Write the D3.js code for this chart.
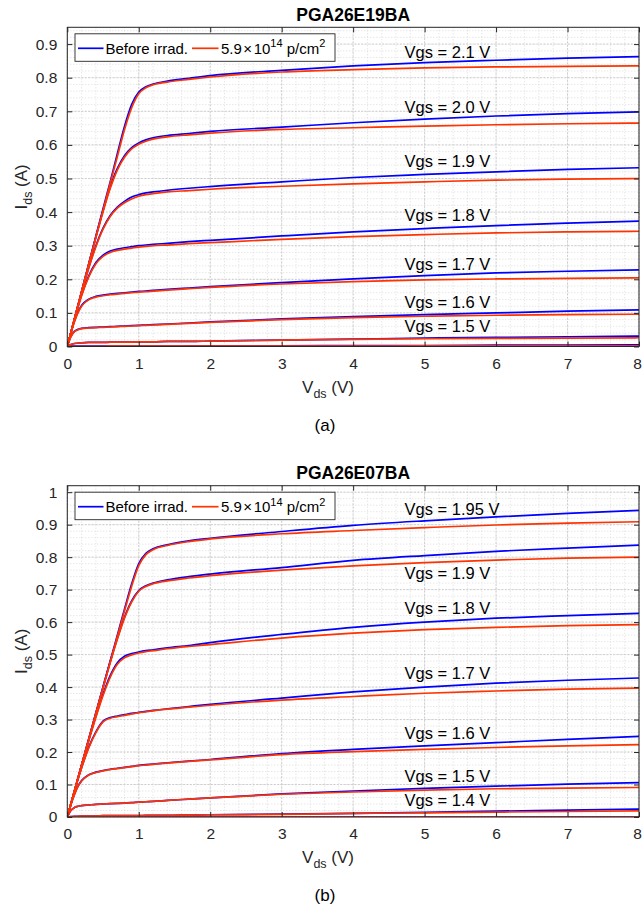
<!DOCTYPE html>
<html>
<head>
<meta charset="utf-8">
<script src="https://cdn.jsdelivr.net/npm/d3@7"></script>
<style>
  body { margin: 0; background: #fff; }
  svg { font-family: "Liberation Sans", Arial, Helvetica, sans-serif; }
</style>
</head>
<body>
<div id="app"></div>
<script>
// Vds sample points (V), shared by every curve
const vds = [0, 0.05, 0.1, 0.15, 0.2, 0.3, 0.4, 0.5, 0.6, 0.7, 0.8, 0.9, 1.0, 1.1, 1.2, 1.4, 1.7, 2, 3, 4, 5, 6, 7, 8];

// (a) PGA26E19BA, Ids (A)
const vgsA = ["2.1", "2.0", "1.9", "1.8", "1.7", "1.6", "1.5", "1.4", "1.3"];
const beforeA = [
  [0, 0.041, 0.082, 0.123, 0.164, 0.246, 0.328, 0.41, 0.49, 0.574, 0.655, 0.72, 0.757, 0.773, 0.781, 0.79, 0.798, 0.806, 0.822, 0.835, 0.845, 0.852, 0.858, 0.863],
  [0, 0.041, 0.082, 0.123, 0.164, 0.246, 0.327, 0.405, 0.475, 0.53, 0.568, 0.592, 0.606, 0.615, 0.621, 0.628, 0.634, 0.64, 0.653, 0.666, 0.677, 0.686, 0.693, 0.698],
  [0, 0.041, 0.081, 0.121, 0.16, 0.235, 0.3, 0.352, 0.39, 0.415, 0.432, 0.445, 0.452, 0.457, 0.46, 0.465, 0.471, 0.476, 0.49, 0.503, 0.512, 0.52, 0.527, 0.532],
  [0, 0.041, 0.08, 0.118, 0.153, 0.21, 0.25, 0.272, 0.284, 0.29, 0.294, 0.297, 0.3, 0.302, 0.304, 0.307, 0.312, 0.316, 0.329, 0.341, 0.351, 0.36, 0.367, 0.373],
  [0, 0.04, 0.075, 0.103, 0.122, 0.141, 0.149, 0.153, 0.156, 0.158, 0.16, 0.162, 0.164, 0.165, 0.167, 0.17, 0.174, 0.178, 0.19, 0.201, 0.211, 0.219, 0.224, 0.228],
  [0, 0.03, 0.045, 0.051, 0.054, 0.056, 0.057, 0.058, 0.059, 0.06, 0.061, 0.062, 0.063, 0.064, 0.065, 0.067, 0.07, 0.073, 0.082, 0.089, 0.095, 0.1, 0.105, 0.109],
  [0, 0.006, 0.009, 0.01, 0.011, 0.012, 0.012, 0.012, 0.013, 0.013, 0.013, 0.013, 0.014, 0.014, 0.014, 0.015, 0.015, 0.016, 0.019, 0.022, 0.025, 0.027, 0.029, 0.031],
  [0, 0.001, 0.001, 0.001, 0.001, 0.001, 0.001, 0.001, 0.001, 0.001, 0.001, 0.001, 0.001, 0.001, 0.001, 0.001, 0.002, 0.002, 0.002, 0.003, 0.003, 0.004, 0.004, 0.005],
  [0, 0, 0, 0, 0, 0, 0, 0, 0, 0, 0, 0, 0, 0, 0, 0, 0, 0, 0, 0, 0, 0, 0, 0]
];
const afterA = [
  [0, 0.041, 0.082, 0.123, 0.163, 0.244, 0.325, 0.405, 0.485, 0.565, 0.645, 0.71, 0.752, 0.77, 0.779, 0.787, 0.795, 0.802, 0.817, 0.824, 0.829, 0.832, 0.834, 0.835],
  [0, 0.041, 0.082, 0.122, 0.163, 0.244, 0.324, 0.4, 0.47, 0.525, 0.563, 0.588, 0.602, 0.611, 0.617, 0.624, 0.63, 0.635, 0.646, 0.651, 0.656, 0.66, 0.663, 0.665],
  [0, 0.041, 0.081, 0.12, 0.159, 0.233, 0.297, 0.349, 0.387, 0.412, 0.428, 0.439, 0.447, 0.452, 0.455, 0.46, 0.464, 0.468, 0.477, 0.484, 0.49, 0.495, 0.498, 0.5],
  [0, 0.041, 0.08, 0.117, 0.151, 0.207, 0.246, 0.268, 0.28, 0.286, 0.29, 0.293, 0.296, 0.298, 0.3, 0.302, 0.306, 0.309, 0.319, 0.327, 0.333, 0.338, 0.341, 0.343],
  [0, 0.04, 0.074, 0.101, 0.12, 0.139, 0.147, 0.151, 0.154, 0.156, 0.158, 0.16, 0.162, 0.163, 0.165, 0.168, 0.172, 0.176, 0.186, 0.193, 0.198, 0.201, 0.203, 0.204],
  [0, 0.029, 0.044, 0.05, 0.053, 0.055, 0.056, 0.057, 0.058, 0.059, 0.06, 0.061, 0.062, 0.063, 0.064, 0.066, 0.069, 0.072, 0.08, 0.086, 0.09, 0.093, 0.095, 0.096],
  [0, 0.006, 0.009, 0.01, 0.011, 0.012, 0.012, 0.012, 0.013, 0.013, 0.013, 0.013, 0.014, 0.014, 0.014, 0.015, 0.015, 0.016, 0.019, 0.021, 0.023, 0.024, 0.025, 0.026],
  [0, 0, 0, 0, 0, 0, 0, 0, 0.001, 0.001, 0.001, 0.001, 0.001, 0.001, 0.001, 0.001, 0.001, 0.001, 0.001, 0.001, 0.002, 0.002, 0.002, 0.002],
  [0, 0, 0, 0, 0, 0, 0, 0, 0, 0, 0, 0, 0, 0, 0, 0, 0, 0, 0, 0, 0, 0, 0, 0]
];
const labelsA = ["2.1", "2.0", "1.9", "1.8", "1.7", "1.6", "1.5"];
const labelIdsA = [0.86, 0.696, 0.535, 0.375, 0.228, 0.114, 0.044];

// (b) PGA26E07BA, Ids (A)
const vgsB = ["1.95", "1.9", "1.8", "1.7", "1.6", "1.5", "1.4", "1.3"];
const beforeB = [
  [0, 0.04, 0.08, 0.12, 0.16, 0.24, 0.32, 0.4, 0.48, 0.56, 0.64, 0.717, 0.78, 0.812, 0.826, 0.838, 0.85, 0.858, 0.879, 0.898, 0.912, 0.924, 0.935, 0.944],
  [0, 0.04, 0.08, 0.12, 0.16, 0.24, 0.32, 0.4, 0.478, 0.55, 0.615, 0.665, 0.697, 0.712, 0.72, 0.73, 0.74, 0.748, 0.768, 0.79, 0.805, 0.818, 0.828, 0.837],
  [0, 0.04, 0.08, 0.12, 0.159, 0.236, 0.31, 0.378, 0.435, 0.475, 0.495, 0.503, 0.508, 0.512, 0.515, 0.521, 0.528, 0.537, 0.562, 0.584, 0.6, 0.612, 0.62, 0.627],
  [0, 0.04, 0.079, 0.117, 0.152, 0.215, 0.262, 0.295, 0.306, 0.311, 0.315, 0.319, 0.322, 0.325, 0.328, 0.333, 0.34, 0.347, 0.366, 0.385, 0.4, 0.412, 0.421, 0.428],
  [0, 0.038, 0.07, 0.095, 0.112, 0.13, 0.138, 0.143, 0.147, 0.15, 0.153, 0.156, 0.159, 0.161, 0.163, 0.167, 0.172, 0.177, 0.195, 0.208, 0.219, 0.229, 0.239, 0.248],
  [0, 0.02, 0.029, 0.033, 0.035, 0.037, 0.039, 0.04, 0.041, 0.042, 0.043, 0.044, 0.046, 0.047, 0.048, 0.051, 0.055, 0.059, 0.071, 0.08, 0.088, 0.095, 0.101, 0.106],
  [0, 0.001, 0.002, 0.002, 0.003, 0.003, 0.003, 0.004, 0.004, 0.004, 0.004, 0.004, 0.004, 0.005, 0.005, 0.005, 0.006, 0.007, 0.009, 0.011, 0.014, 0.018, 0.021, 0.0245],
  [0, 0, 0, 0, 0, 0, 0, 0, 0, 0, 0, 0, 0, 0, 0, 0, 0, 0, 0, 0, 0, 0, 0, 0]
];
const afterB = [
  [0, 0.04, 0.08, 0.12, 0.159, 0.239, 0.318, 0.397, 0.476, 0.555, 0.634, 0.71, 0.774, 0.808, 0.823, 0.836, 0.848, 0.856, 0.872, 0.882, 0.891, 0.899, 0.905, 0.909],
  [0, 0.04, 0.08, 0.12, 0.159, 0.239, 0.318, 0.397, 0.475, 0.547, 0.612, 0.662, 0.695, 0.71, 0.718, 0.727, 0.736, 0.743, 0.76, 0.773, 0.783, 0.791, 0.797, 0.8],
  [0, 0.04, 0.08, 0.119, 0.158, 0.234, 0.307, 0.374, 0.43, 0.47, 0.49, 0.499, 0.505, 0.509, 0.512, 0.518, 0.525, 0.531, 0.551, 0.566, 0.577, 0.584, 0.589, 0.592],
  [0, 0.04, 0.078, 0.116, 0.151, 0.213, 0.26, 0.293, 0.304, 0.309, 0.313, 0.317, 0.321, 0.324, 0.327, 0.332, 0.338, 0.344, 0.36, 0.371, 0.381, 0.388, 0.394, 0.397],
  [0, 0.038, 0.069, 0.094, 0.111, 0.129, 0.137, 0.142, 0.146, 0.149, 0.152, 0.155, 0.158, 0.16, 0.162, 0.166, 0.171, 0.176, 0.192, 0.201, 0.208, 0.214, 0.219, 0.223],
  [0, 0.02, 0.029, 0.033, 0.035, 0.037, 0.039, 0.04, 0.041, 0.042, 0.043, 0.044, 0.046, 0.047, 0.048, 0.051, 0.055, 0.059, 0.07, 0.077, 0.083, 0.087, 0.089, 0.091],
  [0, 0.001, 0.002, 0.002, 0.003, 0.003, 0.003, 0.004, 0.004, 0.004, 0.004, 0.004, 0.004, 0.005, 0.005, 0.005, 0.006, 0.007, 0.008, 0.011, 0.013, 0.015, 0.017, 0.019],
  [0, 0, 0, 0, 0, 0, 0, 0, 0, 0, 0, 0, 0, 0, 0, 0, 0, 0, 0, 0, 0, 0, 0, 0]
];
const labelsB = ["1.95", "1.9", "1.8", "1.7", "1.6", "1.5", "1.4"];
const labelIdsB = [0.929, 0.732, 0.625, 0.425, 0.241, 0.108, 0.034];

const xTicks = [0, 1, 2, 3, 4, 5, 6, 7, 8];
const yTicksA = [0, 0.1, 0.2, 0.3, 0.4, 0.5, 0.6, 0.7, 0.8, 0.9];
const yTicksB = [0, 0.1, 0.2, 0.3, 0.4, 0.5, 0.6, 0.7, 0.8, 0.9, 1];

const blue = "#0000ff";
const red = "#ff3300";
const axisColor = "#262626";

const svg = d3.select("#app").append("svg")
  .attr("width", 642)
  .attr("height", 909);

function drawPanel(p) {
  const left = 67.3, right = 639;
  const x = d3.scaleLinear().domain([0, 8]).range([left, right]);
  const y = d3.scaleLinear().domain([0, p.yMax]).range([p.bottom, p.top]);
  const g = svg.append("g");

  g.append("clipPath").attr("id", p.id + "-clip")
    .append("rect")
    .attr("x", left).attr("y", p.top)
    .attr("width", right - left).attr("height", p.bottom - p.top);

  // minor grid
  const xMinor = d3.range(0, 8.0001, 0.2);
  const yMinor = d3.range(0, p.yMax, 0.02);
  g.append("g").selectAll("line").data(xMinor).join("line")
    .attr("x1", d => x(d)).attr("x2", d => x(d))
    .attr("y1", p.top).attr("y2", p.bottom)
    .attr("stroke", "#d4d4d4").attr("stroke-width", 0.8)
    .attr("stroke-dasharray", "1,2");
  g.append("g").selectAll("line").data(yMinor).join("line")
    .attr("x1", left).attr("x2", right)
    .attr("y1", d => y(d)).attr("y2", d => y(d))
    .attr("stroke", "#d4d4d4").attr("stroke-width", 0.8)
    .attr("stroke-dasharray", "1,2");
  // major grid
  g.append("g").selectAll("line").data(xTicks).join("line")
    .attr("x1", d => x(d)).attr("x2", d => x(d))
    .attr("y1", p.top).attr("y2", p.bottom)
    .attr("stroke", "#c4c4c4").attr("stroke-width", 0.8)
    .attr("stroke-dasharray", "2,1.5");
  g.append("g").selectAll("line").data(p.yTicks).join("line")
    .attr("x1", left).attr("x2", right)
    .attr("y1", d => y(d)).attr("y2", d => y(d))
    .attr("stroke", "#c4c4c4").attr("stroke-width", 0.8)
    .attr("stroke-dasharray", "2,1.5");

  const line = d3.line()
    .x((d, i) => x(vds[i]))
    .y(d => y(d))
    .curve(d3.curveMonotoneX);

  const curves = g.append("g").attr("clip-path", `url(#${p.id}-clip)`);
  p.before.forEach(s => {
    curves.append("path").attr("d", line(s))
      .attr("fill", "none").attr("stroke", blue).attr("stroke-width", 1.7);
  });
  p.after.forEach(s => {
    curves.append("path").attr("d", line(s))
      .attr("fill", "none").attr("stroke", red).attr("stroke-width", 1.7);
  });

  // box
  g.append("rect")
    .attr("x", left).attr("y", p.top)
    .attr("width", right - left).attr("height", p.bottom - p.top)
    .attr("fill", "none").attr("stroke", axisColor).attr("stroke-width", 1);

  // axes with inward ticks
  g.append("g").attr("transform", `translate(0,${p.bottom})`)
    .call(d3.axisBottom(x).tickValues(xTicks).tickSizeInner(-5).tickSizeOuter(0).tickPadding(11).tickFormat(d3.format("d")))
    .call(a => a.select(".domain").remove())
    .call(a => a.selectAll(".tick text").filter(d => d === 8).attr("dx", -2));
  g.append("g").attr("transform", `translate(0,${p.top})`)
    .call(d3.axisTop(x).tickValues(xTicks).tickSizeInner(-5).tickSizeOuter(0).tickFormat(""))
    .call(a => a.select(".domain").remove());
  g.append("g").attr("transform", `translate(${left},0)`)
    .call(d3.axisLeft(y).tickValues(p.yTicks).tickSizeInner(-5).tickSizeOuter(0).tickPadding(10).tickFormat(d => d === 0 || d === 1 ? d3.format("d")(d) : d3.format(".1f")(d)))
    .call(a => a.select(".domain").remove());
  g.append("g").attr("transform", `translate(${right},0)`)
    .call(d3.axisRight(y).tickValues(p.yTicks).tickSizeInner(-5).tickSizeOuter(0).tickFormat(""))
    .call(a => a.select(".domain").remove());
  g.selectAll(".tick line").attr("stroke", axisColor);
  g.selectAll(".tick text")
    .attr("fill", axisColor)
    .attr("font-size", 15.5)
    .attr("font-family", "Liberation Sans, Arial, sans-serif");

  // title
  g.append("text")
    .attr("x", (left + right) / 2).attr("y", p.top - 6.5)
    .attr("text-anchor", "middle")
    .attr("font-size", 17.5).attr("font-weight", "bold")
    .attr("fill", "#000")
    .text(p.title);

  // axis labels
  const xl = g.append("text")
    .attr("x", 328).attr("y", p.bottom + 46)
    .attr("text-anchor", "middle")
    .attr("font-size", 17).attr("fill", axisColor);
  xl.append("tspan").text("V");
  xl.append("tspan").attr("font-size", 12.5).attr("dy", 5).text("ds");
  xl.append("tspan").attr("dy", -5).text(" (V)");

  const yl = g.append("text")
    .attr("transform", `translate(27,${(p.top + p.bottom) / 2}) rotate(-90)`)
    .attr("text-anchor", "middle")
    .attr("font-size", 17).attr("fill", axisColor);
  yl.append("tspan").text("I");
  yl.append("tspan").attr("font-size", 12.5).attr("dy", 5).text("ds");
  yl.append("tspan").attr("dy", -5).text(" (A)");

  // caption
  g.append("text")
    .attr("x", 325).attr("y", p.bottom + 84)
    .attr("text-anchor", "middle")
    .attr("font-size", 17).attr("fill", "#000")
    .text(p.caption);

  // Vgs labels
  g.append("g").selectAll("text").data(p.labels).join("text")
    .attr("x", x(4.72))
    .attr("y", (d, i) => y(p.labelIds[i]))
    .attr("font-size", 16.5).attr("fill", "#000")
    .text(d => `Vgs = ${d} V`);

  // legend
  const ly = p.top + 6.5;
  const lg = g.append("g");
  lg.append("rect")
    .attr("x", 75).attr("y", ly)
    .attr("width", 260).attr("height", 27.5)
    .attr("fill", "#fff").attr("stroke", axisColor).attr("stroke-width", 0.9);
  const cy = ly + 14.5;
  lg.append("line").attr("x1", 78).attr("x2", 103.5).attr("y1", cy).attr("y2", cy)
    .attr("stroke", blue).attr("stroke-width", 1.7);
  lg.append("text").attr("x", 105.5).attr("y", cy + 5.3)
    .attr("font-size", 15).attr("fill", "#000").text("Before irrad.");
  lg.append("line").attr("x1", 192).attr("x2", 218.5).attr("y1", cy).attr("y2", cy)
    .attr("stroke", red).attr("stroke-width", 1.7);
  const lt = lg.append("text").attr("x", 221).attr("y", cy + 5.3)
    .attr("font-size", 15).attr("fill", "#000");
  lt.append("tspan").text("5.9");
  lt.append("tspan").attr("dx", 1.5).text("\u00d7");
  lt.append("tspan").attr("dx", 1.5).text("10");
  lt.append("tspan").attr("font-size", 11).attr("dy", -6.5).text("14");
  lt.append("tspan").attr("dy", 6.5).text(" p/cm");
  lt.append("tspan").attr("font-size", 11).attr("dy", -6.5).text("2");
}

drawPanel({
  id: "pa", top: 27.3, bottom: 346.5, yMax: 0.95, yTicks: yTicksA,
  title: "PGA26E19BA", caption: "(a)",
  before: beforeA, after: afterA, labels: labelsA, labelIds: labelIdsA
});
drawPanel({
  id: "pb", top: 485.7, bottom: 817, yMax: 1.02, yTicks: yTicksB,
  title: "PGA26E07BA", caption: "(b)",
  before: beforeB, after: afterB, labels: labelsB, labelIds: labelIdsB
});
</script>
</body>
</html>
